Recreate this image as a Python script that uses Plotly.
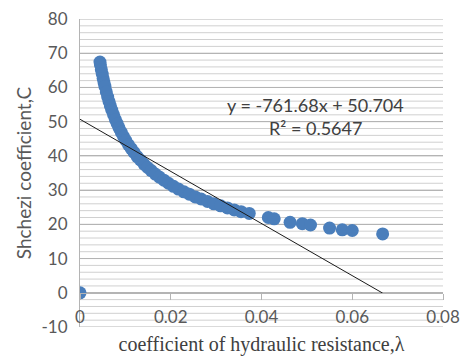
import plotly.graph_objects as go

# Data
lam = [0.0, 0.0044, 0.0045, 0.0047, 0.0049, 0.0051, 0.0053, 0.0055, 0.0058, 0.0061,
       0.0064, 0.0067, 0.0070, 0.0074, 0.0078, 0.0082, 0.0086, 0.0091, 0.0096, 0.0101,
       0.0107, 0.0113, 0.0119, 0.0126, 0.0133, 0.0141, 0.0149, 0.0157, 0.0166, 0.0175,
       0.0185, 0.0195, 0.0206, 0.0217, 0.0229, 0.0241, 0.0254, 0.0267, 0.0281, 0.0295,
       0.0310, 0.0325, 0.0340, 0.0355, 0.0373, 0.0415, 0.0428, 0.0463, 0.0490, 0.0508,
       0.0550, 0.0578, 0.0600, 0.0667]
C = [0.0, 67.4, 66.6, 65.2, 63.9, 62.6, 61.4, 60.3, 58.7, 57.2,
     55.9, 54.6, 53.4, 52.0, 50.6, 49.4, 48.2, 46.9, 45.6, 44.5,
     43.2, 42.1, 41.0, 39.8, 38.8, 37.6, 36.6, 35.7, 34.7, 33.8,
     32.9, 32.0, 31.1, 30.3, 29.5, 28.8, 28.0, 27.4, 26.7, 26.0,
     25.4, 24.8, 24.2, 23.7, 23.2, 22.0, 21.6, 20.6, 20.2, 19.8,
     18.9, 18.4, 18.2, 17.2]

y_ticks = [-10, 0, 10, 20, 30, 40, 50, 60, 70, 80]
y_tick_labels = ["-10", "0", "10", "20", "30", "40", "50", "60", "70", "80"]
y_minor_ticks = [v for v in range(-8, 80, 2) if v % 10 != 0]
x_ticks = [0, 0.02, 0.04, 0.06, 0.08]
x_tick_labels = ["0", "0.02", "0.04", "0.06", "0.08"]

slope = -761.68
intercept = 50.704
r2 = 0.5647
trend_x = [min(lam), max(lam)]
trend_y = [slope * v + intercept for v in trend_x]

fig = go.Figure()
fig.add_trace(go.Scatter(x=lam, y=C, mode="markers",
                         marker=dict(size=13, color="#4A7EBB"),
                         showlegend=False, hoverinfo="skip"))
fig.add_trace(go.Scatter(x=trend_x, y=trend_y, mode="lines",
                         line=dict(color="#1a1a1a", width=1),
                         showlegend=False, hoverinfo="skip"))
# invisible helper trace so the overlaid x axis is drawn
fig.add_trace(go.Scatter(x=[0], y=[0], xaxis="x2", yaxis="y", mode="markers",
                         marker=dict(opacity=0), showlegend=False, hoverinfo="skip"))

# horizontal gridlines (minor every 2, major every 10), placed via the y axis
for v in y_minor_ticks:
    fig.add_hline(y=v, line=dict(color="#d0d0d0", width=1), layer="below")
for v in y_ticks:
    if v != 0:
        fig.add_hline(y=v, line=dict(color="#b4b4b4", width=1), layer="below")

gray = "#595959"
fig.update_layout(
    width=460, height=356,
    margin=dict(l=80, r=17, t=19, b=29),
    paper_bgcolor="white", plot_bgcolor="rgba(0,0,0,0)",
    font=dict(family="Lato, 'Noto Sans', sans-serif", size=17, color=gray),
    xaxis=dict(
        range=[0, 0.08], tickvals=x_ticks,
        showgrid=False, zeroline=False, showline=False,
        showticklabels=False, ticks="",
    ),
    xaxis2=dict(
        overlaying="x", matches="x",
        range=[0, 0.08], tickvals=x_ticks, ticktext=x_tick_labels,
        showgrid=False, zeroline=False,
        showline=True, linecolor="#b4b4b4", linewidth=1,
        ticks="outside", ticklen=6, tickcolor="#b4b4b4",
        anchor="free", position=10 / 90, side="bottom",
        ticklabelstandoff=3,
        tickfont=dict(size=17, color=gray),
        title=dict(text="coefficient of hydraulic resistance,λ",
                   font=dict(family="'Liberation Serif', 'Times New Roman', serif",
                             size=20, color="#404040"),
                   standoff=14),
        automargin=False,
    ),
    yaxis=dict(
        range=[-10, 80], tickvals=y_ticks, ticktext=y_tick_labels,
        showgrid=True, gridcolor="#b4b4b4", gridwidth=1,
        zeroline=False,
        showline=True, linecolor="#b4b4b4", linewidth=1,
        ticks="", ticklabelstandoff=8,
        tickfont=dict(size=17, color=gray),
        title=dict(text="Shchezi coefficient,C",
                   font=dict(size=19, color=gray), standoff=4),
        automargin=False,
    ),
)

fig.add_annotation(x=0.65, y=(327 - 105) / 308, xref="paper", yref="paper",
                   xanchor="center", yanchor="middle",
                   text=f"y = {slope}x + {intercept}", showarrow=False,
                   font=dict(size=18, color="#404040"))
fig.add_annotation(x=0.65, y=(327 - 128) / 308, xref="paper", yref="paper",
                   xanchor="center", yanchor="middle",
                   text=f"R² = {r2}", showarrow=False,
                   font=dict(size=18, color="#404040"))

fig.write_html("out.html")
